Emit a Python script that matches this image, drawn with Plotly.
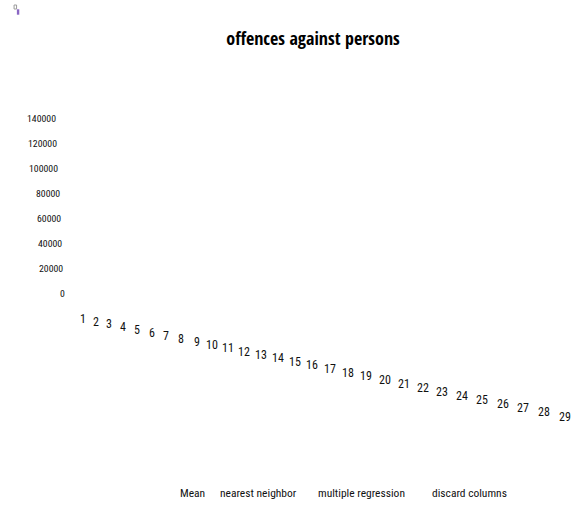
import plotly.graph_objects as go

# ---- data -------------------------------------------------------------
categories = list(range(1, 30))
series_names = ["Mean", "nearest neighbor", "multiple regression", "discard columns"]
# no values were recorded for any method, so every series is empty
mean_values = [None] * len(categories)
nearest_neighbor_values = [None] * len(categories)
multiple_regression_values = [None] * len(categories)
discard_columns_values = [None] * len(categories)
y_tick_values = [0, 20000, 40000, 60000, 80000, 100000, 120000, 140000]
y_tick_labels = ["0", "20000", "40000", "60000", "80000", "100000", "120000", "140000"]
x_tick_labels = [str(c) for c in categories]

# ---- layout geometry ----------------------------------------------------
W, H = 572, 507
FONT = "Roboto Condensed, Carlito, Liberation Sans, sans-serif"
TITLE_FONT = "Open Sans Condensed, Roboto Condensed, Carlito, sans-serif"
UNIT = (565.5 - 83) / 28.0          # px per category
X_LO = 0.5
M_L = 83 - (1 - X_LO) * UNIT
M_R = 0
PLOT_W = W - M_L - M_R
X_HI = X_LO + PLOT_W / UNIT
M_T, M_B = 118, H - 293
PLOT_H = H - M_T - M_B


def paper_x(px):
    return (px - M_L) / PLOT_W


def paper_y(py):
    return (H - M_B - py) / PLOT_H


fig = go.Figure()
for name, vals in zip(series_names, [mean_values, nearest_neighbor_values,
                                     multiple_regression_values, discard_columns_values]):
    fig.add_trace(go.Scatter(x=categories, y=vals, name=name, mode="lines",
                             line=dict(width=1.5), showlegend=False))

annotations = []

# slanted category labels, drawn in a receding perspective
n = len(categories)
for i, lab in zip(categories, x_tick_labels):
    bend = -0.15 * (i - 1) * (n - i)
    px = 83 + (i - 1) * UNIT + bend
    py = 319 + 0.2025 * (px - 83)
    annotations.append(dict(x=i, xref="x", y=0, yref="paper", text=lab,
                            showarrow=False, xanchor="center", yanchor="middle",
                            xshift=bend, yshift=-(py - (H - M_B)),
                            font=dict(family=FONT, size=12, color="#111")))

# value labels, drifting right as they go down
for v, lab in zip(y_tick_values, y_tick_labels):
    k = (max(y_tick_values) - v) / 20000
    right = 58 + 1.3 * k
    annotations.append(dict(x=0, xref="paper", y=v, yref="y", text=lab,
                            showarrow=False, xanchor="right", yanchor="middle",
                            xshift=right - M_L,
                            font=dict(family=FONT, size=9.8, color="#111")))

# legend row, text only
legend_left = [178, 218, 316, 430]
for name, lx in zip(series_names, legend_left):
    annotations.append(dict(x=paper_x(lx), xref="paper", y=paper_y(493), yref="paper",
                            text=name, showarrow=False, xanchor="left", yanchor="middle",
                            font=dict(family=FONT, size=11.5, color="#111")))

# small chart-object handle in the corner
shapes = [
    dict(type="rect", xref="paper", yref="paper",
         x0=paper_x(14.5), x1=paper_x(17), y0=paper_y(9), y1=paper_y(5),
         line=dict(color="#9a9a9a", width=1), fillcolor="rgba(0,0,0,0)"),
    dict(type="rect", xref="paper", yref="paper",
         x0=paper_x(17.3), x1=paper_x(19.7), y0=paper_y(14.7), y1=paper_y(9.3),
         line=dict(width=0), fillcolor="#8a66c4"),
]

fig.update_layout(
    width=W, height=H,
    margin=dict(l=M_L, r=M_R, t=M_T, b=M_B, pad=0),
    paper_bgcolor="white", plot_bgcolor="white",
    title=dict(text="<b>offences against persons</b>", x=313 / W, xref="container",
               xanchor="center", y=1 - 39 / H, yref="container", yanchor="middle",
               font=dict(family=TITLE_FONT, size=18, color="#000")),
    xaxis=dict(range=[X_LO, X_HI], showticklabels=False, showgrid=False,
               zeroline=False, showline=False, ticks=""),
    yaxis=dict(range=[0, 140000], showticklabels=False, showgrid=False,
               zeroline=False, showline=False, ticks=""),
    annotations=annotations,
    shapes=shapes,
    showlegend=False,
)

fig.write_html("out.html")
